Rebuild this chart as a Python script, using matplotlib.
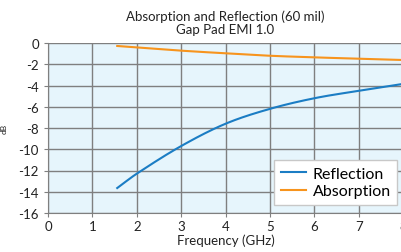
import matplotlib
matplotlib.use("Agg")
import matplotlib.pyplot as plt
import numpy as np

freq_refl = [1.56, 2, 3, 4, 5, 6, 7, 8]
reflection = [-13.65, -12.3, -9.7, -7.6, -6.2, -5.2, -4.5, -3.85]
freq_abs = [1.56, 2, 3, 4, 5, 6, 7, 8]
absorption = [-0.28, -0.41, -0.72, -0.97, -1.2, -1.35, -1.48, -1.6]
xticks = [0, 1, 2, 3, 4, 5, 6, 7, 8]
yticks = [0, -2, -4, -6, -8, -10, -12, -14, -16]

plt.rcParams['font.family'] = ['Lato', 'DejaVu Sans']

fig = plt.figure(figsize=(4.01, 2.53), dpi=100)
ax = fig.add_axes([48/401, 1-214/253, 355/401, 170/253])
ax.set_facecolor('#e6f5fc')

def smooth(x, y):
    xs = np.linspace(x[0], x[-1], 200)
    x = np.array(x, float); y = np.array(y, float)
    out = []
    for xv in xs:
        i = min(np.searchsorted(x, xv) - 1, len(x) - 2)
        i = max(i, 0)
        x0, x1 = x[i], x[i+1]
        y0, y1 = y[i], y[i+1]
        m0 = (y[i+1] - y[i-1]) / (x[i+1] - x[i-1]) if i > 0 else (y1 - y0) / (x1 - x0)
        m1 = (y[i+2] - y[i]) / (x[i+2] - x[i]) if i + 2 < len(x) else (y1 - y0) / (x1 - x0)
        h = x1 - x0
        t = (xv - x0) / h
        h00 = 2*t**3 - 3*t**2 + 1; h10 = t**3 - 2*t**2 + t
        h01 = -2*t**3 + 3*t**2; h11 = t**3 - t**2
        out.append(h00*y0 + h10*h*m0 + h01*y1 + h11*h*m1)
    return xs, np.array(out)

xr, yr = smooth(freq_refl, reflection)
xa, ya = smooth(freq_abs, absorption)
ax.plot(xr, yr, color='#1b7dc4', lw=1.5, label='Reflection')
ax.plot(xa, ya, color='#f7941d', lw=1.5, label='Absorption')

ax.set_xlim(0, 8)
ax.set_ylim(-16, 0)
ax.set_xticks(xticks)
ax.set_yticks(yticks)
ax.set_xticklabels([str(v) for v in xticks])
ax.set_yticklabels([str(v) for v in yticks])
ax.grid(True, color='#7f7f7f', lw=1)
ax.set_axisbelow(True)
for s in ['top', 'right']:
    ax.spines[s].set_visible(False)
for s in ['left', 'bottom']:
    ax.spines[s].set_color('#7f7f7f')
ax.tick_params(axis='both', colors='#7f7f7f', labelcolor='#222222', labelsize=9.5, length=3)
ax.tick_params(axis='x', pad=2)
ax.set_xlabel('Frequency (GHz)', fontsize=9.5, color='#222222', labelpad=1)
ax.set_ylabel('dB', fontsize=6, color='#222222', labelpad=8)
ax.set_title('Absorption and Reflection (60 mil)\nGap Pad EMI 1.0', fontsize=9.5, color='#222222', linespacing=1.15, pad=7)
leg = ax.legend(loc='lower right', bbox_to_anchor=((397-48)/355, 0.05), fontsize=11.5, frameon=True, fancybox=False,
                handlelength=1.6, handletextpad=0.4, borderpad=0.4, labelspacing=0.2, borderaxespad=0)
leg.get_frame().set_edgecolor('#c8c8c8')
leg.get_frame().set_linewidth(1.0)
leg.get_frame().set_alpha(1)
fig.savefig('out.png', dpi=100)
